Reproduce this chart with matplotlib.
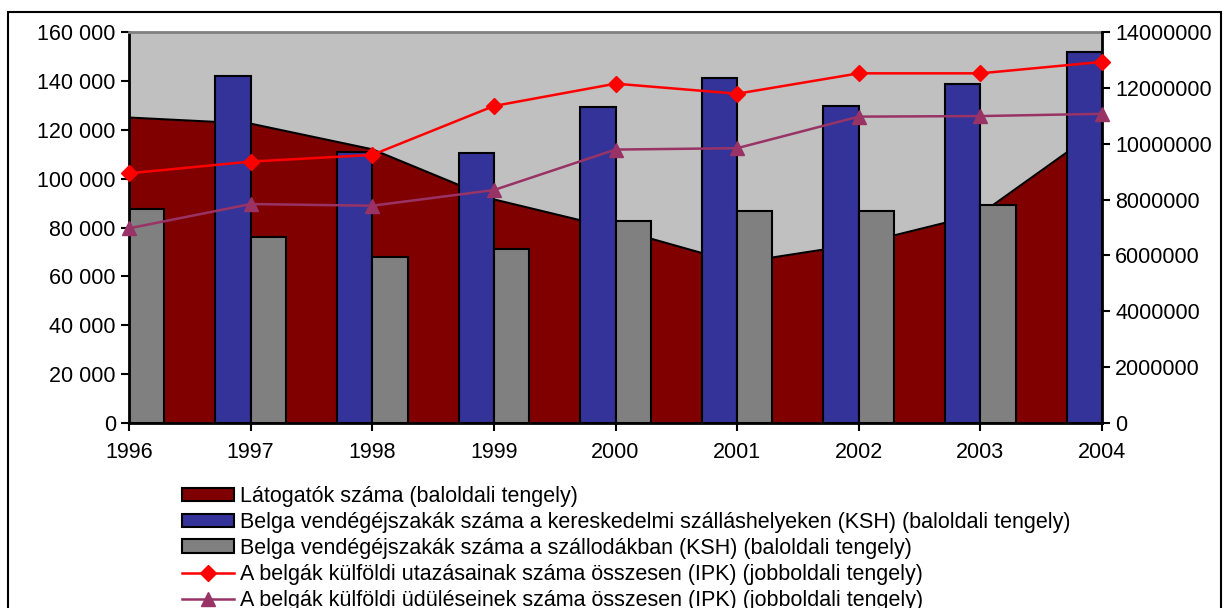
import matplotlib.pyplot as plt
import numpy as np
from matplotlib.patches import Patch, Rectangle
from matplotlib.lines import Line2D
from matplotlib.ticker import FuncFormatter

plt.rcParams['font.family'] = ['Liberation Sans', 'DejaVu Sans']

years = ['1996', '1997', '1998', '1999', '2000', '2001', '2002', '2003', '2004']
# left axis series
visitors = [125000, 122500, 112000, 91500, 79500, 65500, 73200, 85500, 121000]
nights_commercial = [np.nan, 142000, 111000, 110400, 129200, 141300, 129800, 138900, 151900]
nights_hotels = [87400, 76000, 67800, 71200, 82700, 86800, 86800, 89200, np.nan]
# right axis series
trips_total = [8940000, 9360000, 9600000, 11350000, 12150000, 11790000, 12520000, 12520000, 12930000]
holidays_total = [6970000, 7840000, 7780000, 8340000, 9790000, 9840000, 10970000, 10990000, 11070000]

labels = [
    'Látogatók száma (baloldali tengely)',
    'Belga vendégéjszakák száma a kereskedelmi szálláshelyeken (KSH) (baloldali tengely)',
    'Belga vendégéjszakák száma a szállodákban (KSH) (baloldali tengely)',
    'A belgák külföldi utazásainak száma összesen (IPK) (jobboldali tengely)',
    'A belgák külföldi üdüléseinek száma összesen (IPK) (jobboldali tengely)',
]

W, H = 1223, 608
fig = plt.figure(figsize=(W / 100, H / 100), dpi=100)
fig.patches.append(Rectangle((8 / W, -0.1), (1221 - 8) / W, 1.1 - 12 / H,
                             transform=fig.transFigure, fill=False,
                             edgecolor='black', linewidth=1.5))

ax = fig.add_axes([129 / W, 1 - 423 / H, (1102 - 129) / W, (423 - 32) / H])
ax.set_facecolor('#C0C0C0')
x = np.arange(len(years))
w = 0.29

ax.fill_between(x, visitors, 0, color='#800000', linewidth=0, zorder=1)
ax.plot(x, visitors, color='black', linewidth=1.5, zorder=1.5)
ax.bar(x, nights_commercial, width=-w, align='edge', color='#333399',
       edgecolor='black', linewidth=1.5, zorder=2)
ax.bar(x, nights_hotels, width=w, align='edge', color='#808080',
       edgecolor='black', linewidth=1.5, zorder=2)

ax.set_xlim(0, 8)
ax.set_ylim(0, 160000)
ax.set_yticks(np.arange(0, 160001, 20000))
ax.yaxis.set_major_formatter(FuncFormatter(lambda v, p: f'{int(v):,}'.replace(',', ' ')))
ax.set_xticks(x)
ax.set_xticklabels(years)
ax.tick_params(labelsize=15.5, length=6, width=1.5, direction='out')
ax.tick_params(axis='x', pad=8)
for s in ['left', 'bottom']:
    ax.spines[s].set_linewidth(2)
ax.spines['top'].set_color('#808080')
ax.spines['top'].set_linewidth(2)
ax.spines['right'].set_visible(False)

ax2 = ax.twinx()
ax2.set_ylim(0, 14000000)
ax2.set_yticks(np.arange(0, 14000001, 2000000))
ax2.yaxis.set_major_formatter(FuncFormatter(lambda v, p: f'{int(v)}'))
ax2.plot(x, trips_total, color='#FF0000', linewidth=1.8, marker='D',
         markersize=8, clip_on=False, zorder=3)
ax2.plot(x, holidays_total, color='#993366', linewidth=1.8, marker='^',
         markersize=10, clip_on=False, zorder=3)
ax2.tick_params(labelsize=15.5, length=6, width=1.5, direction='out')
ax2.spines['right'].set_linewidth(2)
for s in ['left', 'top', 'bottom']:
    ax2.spines[s].set_visible(False)

handles = [
    Patch(facecolor='#800000', edgecolor='black', linewidth=1.5),
    Patch(facecolor='#333399', edgecolor='black', linewidth=1.5),
    Patch(facecolor='#808080', edgecolor='black', linewidth=1.5),
    Line2D([], [], color='#FF0000', linewidth=1.8, marker='D', markersize=8),
    Line2D([], [], color='#993366', linewidth=1.8, marker='^', markersize=10),
]
fig.legend(handles, labels, loc='upper left', bbox_to_anchor=(182 / W, 1 - 486 / H),
           frameon=False, fontsize=15.5, handlelength=2.4, handleheight=0.6,
           handletextpad=0.3, labelspacing=0.23, borderpad=0, borderaxespad=0)

fig.savefig('out.png', dpi=100)
